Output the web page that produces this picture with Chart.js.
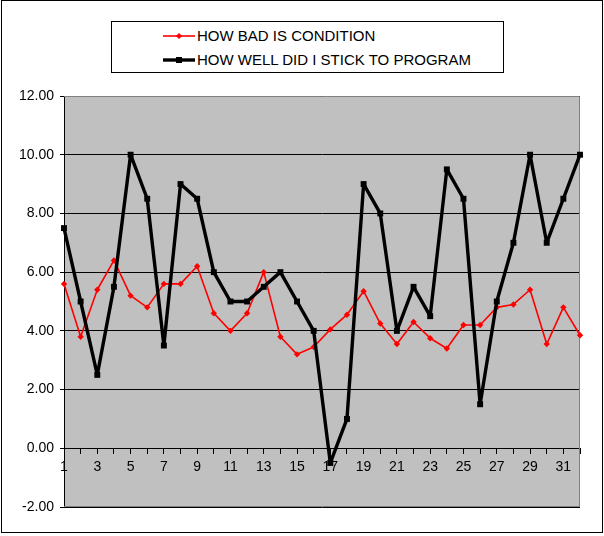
<!DOCTYPE html>
<html>
<head>
<meta charset="utf-8">
<script src="https://cdn.jsdelivr.net/npm/chart.js@4"></script>
<style>
  html, body { margin: 0; padding: 0; background: #fff; }
  #wrap { position: relative; width: 604px; height: 536px; }
  #frame { position: absolute; left: 1px; top: 0; width: 600px; height: 531px; border: 1px solid #000; pointer-events: none; }
  #legend {
    position: absolute; left: 111px; top: 21px; width: 391px; height: 50px;
    border: 1px solid #000; background: #fff;
    font: 15px "Liberation Sans", Arial, sans-serif; color: #000;
  }
  .item { position: absolute; left: 51px; height: 20px; line-height: 20px; white-space: nowrap; }
  .item canvas { vertical-align: middle; margin-right: 2px; position: relative; top: -1px; }
</style>
</head>
<body>
<div id="wrap">
  <canvas id="chart" width="604" height="536"></canvas>
  <div id="legend"></div>
  <div id="frame"></div>
</div>
<script>
const days = ['1','2','3','4','5','6','7','8','9','10','11','12','13','14','15','16',
  '17','18','19','20','21','22','23','24','25','26','27','28','29','30','31','32'];

const howBad = [5.6, 3.8, 5.4, 6.4, 5.2, 4.8, 5.6, 5.6, 6.2, 4.6, 4.0, 4.6, 6.0, 3.8, 3.2, 3.45,
  4.05, 4.55, 5.35, 4.25, 3.55, 4.3, 3.75, 3.4, 4.2, 4.2, 4.8, 4.9, 5.4, 3.55, 4.8, 3.85];

const howWell = [7.5, 5.0, 2.5, 5.5, 10, 8.5, 3.5, 9, 8.5, 6, 5, 5, 5.5, 6, 5, 4,
  -0.5, 1, 9, 8, 4, 5.5, 4.5, 9.5, 8.5, 1.5, 5, 7, 10, 7, 8.5, 10];

const yTicks = [-2, 0, 2, 4, 6, 8, 10, 12];

const font = { family: '"Liberation Sans", Arial, sans-serif', size: 14 };

// grey plot area with a darker border, like the old spreadsheet look
const plotArea = {
  id: 'plotArea',
  beforeDraw(chart) {
    const { ctx, chartArea: a } = chart;
    ctx.save();
    ctx.fillStyle = '#c0c0c0';
    ctx.fillRect(a.left, a.top, a.right - a.left, a.bottom - a.top);
    ctx.restore();
  },
  beforeDatasetsDraw(chart) {
    const { ctx, chartArea: a } = chart;
    ctx.save();
    ctx.strokeStyle = '#808080';
    ctx.lineWidth = 1;
    ctx.beginPath();
    ctx.moveTo(a.left, a.top + 0.5);
    ctx.lineTo(a.right - 0.5, a.top + 0.5);
    ctx.lineTo(a.right - 0.5, a.bottom - 0.5);
    ctx.lineTo(a.left, a.bottom - 0.5);
    ctx.stroke();
    ctx.restore();
  }
};

const chart = new Chart(document.getElementById('chart'), {
  type: 'line',
  data: {
    labels: days,
    datasets: [
      {
        label: 'HOW BAD IS CONDITION',
        data: howBad,
        borderColor: '#ff0000',
        backgroundColor: '#ff0000',
        borderWidth: 1.6,
        borderJoinStyle: 'round',
        pointStyle: 'rectRot',
        pointRadius: 3.2,
        pointBorderWidth: 0,
        tension: 0,
        clip: false,
        order: 1,
      },
      {
        label: 'HOW WELL DID I STICK TO PROGRAM',
        data: howWell,
        borderColor: '#000000',
        backgroundColor: '#000000',
        borderWidth: 3.4,
        borderJoinStyle: 'round',
        pointStyle: 'rect',
        pointRadius: 4.2,
        pointBorderWidth: 0,
        tension: 0,
        clip: false,
        order: 0,
      },
    ],
  },
  options: {
    responsive: false,
    animation: false,
    events: [],
    layout: { padding: { left: 0, top: 96, right: 24, bottom: 29 } },
    scales: {
      x: {
        position: { y: 0 },
        offset: false,
        afterFit: (s) => { s.height = 0; },
        grid: { drawOnChartArea: false, drawTicks: true, tickLength: 5, color: '#000' },
        border: { color: '#000', width: 1 },
        ticks: {
          autoSkip: false,
          maxRotation: 0,
          padding: 5,
          color: '#000',
          font,
          callback: (v, i) => (i % 2 === 0 ? days[i] : ''),
        },
      },
      y: {
        min: yTicks[0],
        max: yTicks[yTicks.length - 1],
        afterFit: (s) => { s.width = 64; },
        afterBuildTicks: (s) => { s.ticks = yTicks.map((v) => ({ value: v })); },
        grid: { color: '#000', tickLength: 4 },
        border: { color: '#000', width: 1 },
        ticks: {
          color: '#000',
          font,
          padding: 6,
          callback: (v) => v.toFixed(2),
        },
      },
    },
    plugins: {
      legend: { display: false },
      tooltip: { enabled: false },
    },
  },
  plugins: [plotArea],
});

// legend box built from the datasets
const legend = document.getElementById('legend');
chart.data.datasets.forEach((ds, i) => {
  const row = document.createElement('div');
  row.className = 'item';
  row.style.top = (4 + i * 24) + 'px';
  const c = document.createElement('canvas');
  c.width = 32; c.height = 10;
  const g = c.getContext('2d');
  g.strokeStyle = ds.borderColor;
  g.lineWidth = ds.borderWidth;
  g.beginPath(); g.moveTo(0, 5); g.lineTo(32, 5); g.stroke();
  g.fillStyle = ds.backgroundColor;
  if (ds.pointStyle === 'rectRot') {
    g.beginPath(); g.moveTo(16, 2); g.lineTo(19, 5); g.lineTo(16, 8); g.lineTo(13, 5); g.fill();
  } else {
    g.fillRect(13, 2, 6, 6);
  }
  row.appendChild(c);
  row.appendChild(document.createTextNode(ds.label));
  legend.appendChild(row);
});
</script>
</body>
</html>
